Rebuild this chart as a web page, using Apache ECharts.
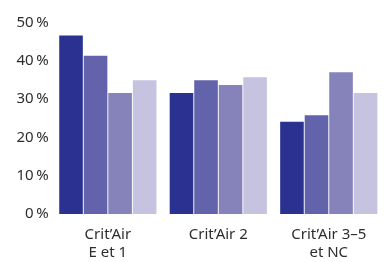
<!DOCTYPE html>
<html lang="fr">
<head>
<meta charset="utf-8">
<title>Crit'Air</title>
<script src="https://cdn.jsdelivr.net/npm/echarts@6/dist/echarts.min.js"></script>
<style>
  html, body { margin: 0; padding: 0; background: #fff; }
  #chart { width: 384px; height: 262px; }
</style>
</head>
<body>
<div id="chart"></div>
<script>
// données
var categories = ['Crit\u2019Air\nE et 1', 'Crit\u2019Air 2', 'Crit\u2019Air 3\u20135\net NC'];
var serie1 = [46.6, 31.6, 24.1];
var serie2 = [41.3, 34.9, 25.8];
var serie3 = [31.6, 33.7, 37.0];
var serie4 = [34.9, 35.7, 31.6];
var couleurs = ['#2b3190', '#6363ab', '#8682ba', '#c5c3e0'];
var yTicks = [0, 10, 20, 30, 40, 50];

var myChart = echarts.init(document.getElementById('chart'));
var font = '"Noto Sans", "DejaVu Sans", sans-serif';

function bar(data, i) {
    return {
        type: 'bar',
        data: data,
        barGap: '4%',
        barCategoryGap: '12%',
        itemStyle: { color: couleurs[i] },
        silent: true
    };
}

var option = {
    animation: false,
    grid: { left: 52.6, right: -5.9, top: 22.5, bottom: 43, containLabel: false },
    xAxis: {
        type: 'category',
        data: categories,
        axisLine: { show: false },
        axisTick: { show: false },
        axisLabel: {
            color: '#2e2e2e',
            fontFamily: font,
            fontSize: 15,
            lineHeight: 18,
            margin: 12
        }
    },
    yAxis: {
        type: 'value',
        min: yTicks[0],
        max: yTicks[yTicks.length - 1],
        interval: 10,
        splitLine: { show: false },
        axisLine: { show: false },
        axisTick: { show: false },
        axisLabel: {
            color: '#2e2e2e',
            fontFamily: font,
            fontSize: 15,
            margin: 4,
            formatter: function (v) { return v + '\u2009%'; }
        }
    },
    series: [bar(serie1, 0), bar(serie2, 1), bar(serie3, 2), bar(serie4, 3)]
};
myChart.setOption(option);
</script>
</body>
</html>
